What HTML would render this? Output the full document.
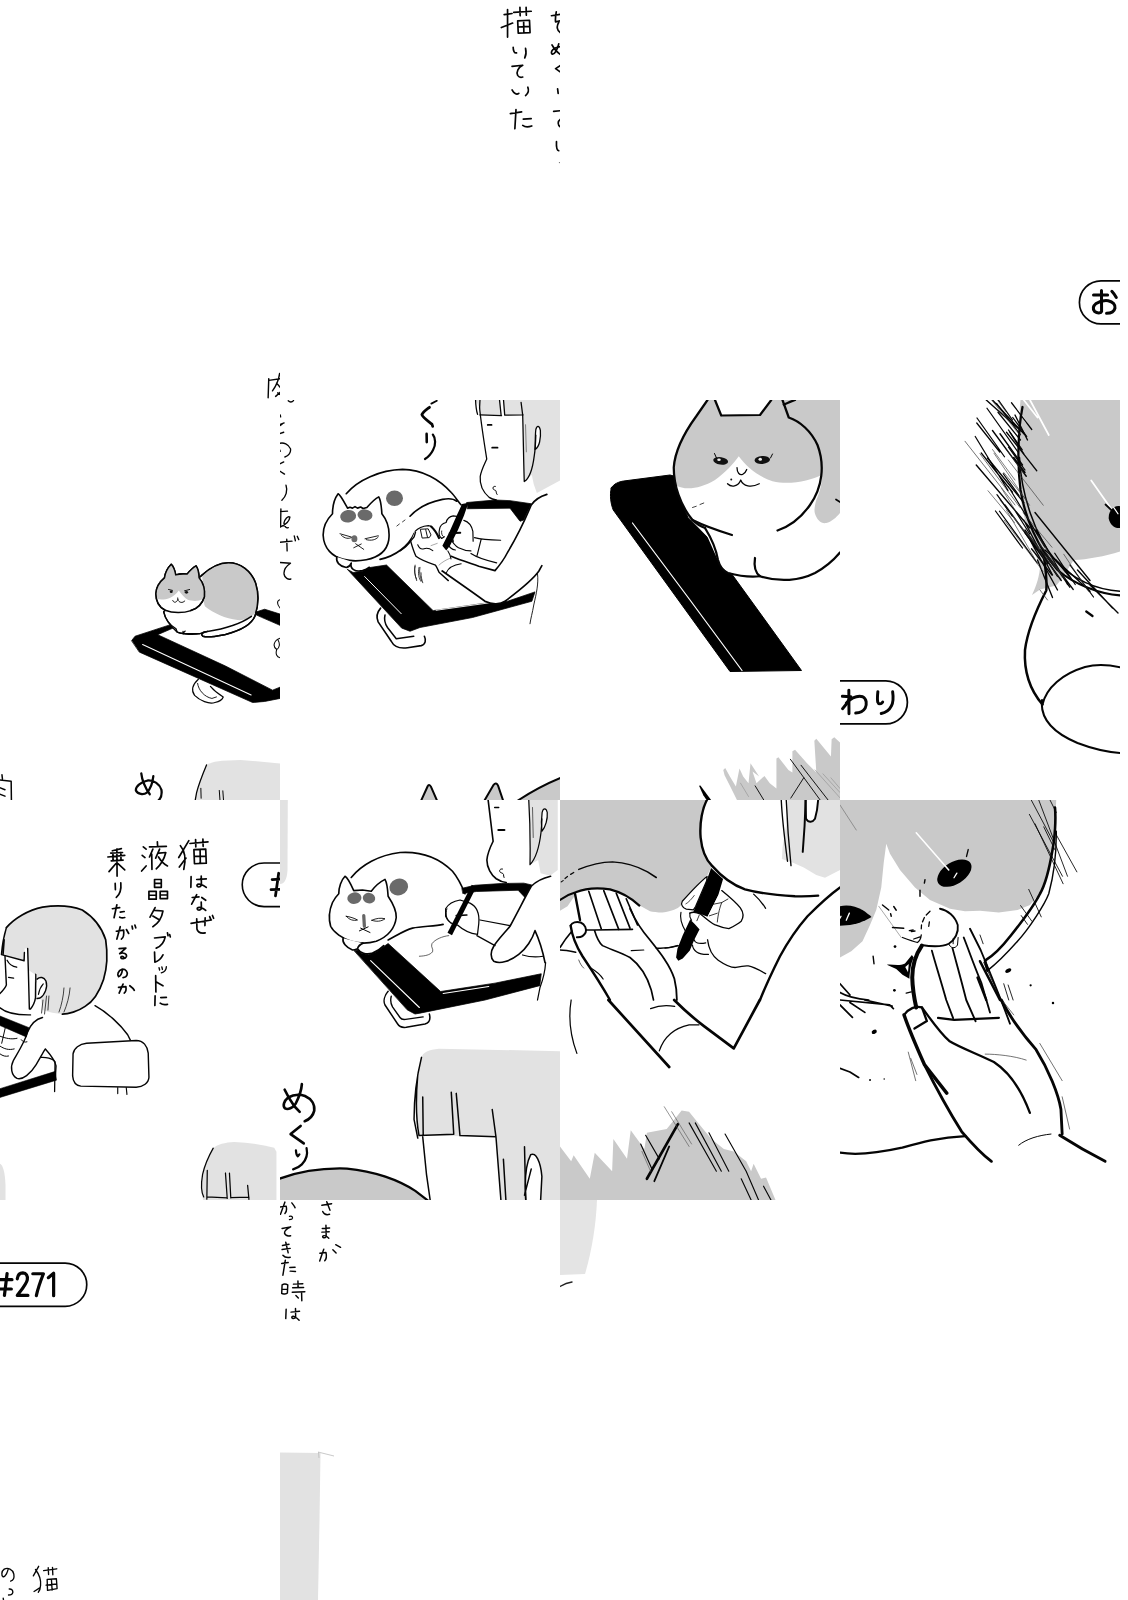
<!DOCTYPE html>
<html><head><meta charset="utf-8"><title>page</title>
<style>html,body{margin:0;padding:0;background:#fff}svg{display:block}
.k{fill:none;stroke:#050505;stroke-linecap:round;stroke-linejoin:round}
.b{fill:#000;stroke:#000;stroke-linejoin:round}
.g{fill:#c9c9c9;stroke:none}
.w{fill:#fff;stroke:none}
</style></head><body>
<svg width="1128" height="1600" viewBox="0 0 1128 1600">
<rect width="1128" height="1600" fill="#fff"/>
<defs>
<clipPath id="c00"><rect x="0" y="0" width="280" height="400"/></clipPath>
<clipPath id="c10"><rect x="280" y="0" width="280" height="400"/></clipPath>
<clipPath id="c20"><rect x="560" y="0" width="280" height="400"/></clipPath>
<clipPath id="c30"><rect x="840" y="0" width="280" height="400"/></clipPath>
<clipPath id="c01"><rect x="0" y="400" width="280" height="400"/></clipPath>
<clipPath id="c11"><rect x="280" y="400" width="280" height="400"/></clipPath>
<clipPath id="c21"><rect x="560" y="400" width="280" height="400"/></clipPath>
<clipPath id="c31"><rect x="840" y="400" width="280" height="400"/></clipPath>
<clipPath id="c02"><rect x="0" y="800" width="280" height="400"/></clipPath>
<clipPath id="c12"><rect x="280" y="800" width="280" height="400"/></clipPath>
<clipPath id="c22"><rect x="560" y="800" width="280" height="400"/></clipPath>
<clipPath id="c32"><rect x="840" y="800" width="280" height="400"/></clipPath>
<clipPath id="c03"><rect x="0" y="1200" width="280" height="400"/></clipPath>
<clipPath id="c13"><rect x="280" y="1200" width="280" height="400"/></clipPath>
<clipPath id="c23"><rect x="560" y="1200" width="280" height="400"/></clipPath>
<clipPath id="c33"><rect x="840" y="1200" width="280" height="400"/></clipPath>
</defs>
<g clip-path="url(#c00)">
<!-- tile (0,0): partial niku at bottom-right. 13.333x coords origin (262,370) -->
<g transform="translate(262,370) scale(.075)" class="k" stroke-width="19">
  <path d="M90,115 L82,370 M92,138 L250,116 M235,45 C225,120 190,210 140,278 M195,175 L250,240 M250,292 L182,352 M210,305 L250,332"/>
</g>

</g>
<g clip-path="url(#c10)">
<!-- tile (1,0): text. 8.8917x coords origin (480,0) -->
<g transform="translate(480,0) scale(.112465)" class="k" stroke-width="15">
  <path d="M215,130 L285,120 M245,85 L245,330 M190,245 L290,205"/>
  <path d="M300,110 L455,100 M355,65 L357,140 M410,65 L412,135 M335,185 L340,295 L445,290 L440,180 Z M338,240 L442,235 M388,185 L390,293"/>
  <path d="M295,420 C295,450 305,475 325,470 M405,430 C412,460 410,490 398,515"/>
  <path d="M285,590 L380,580 C340,600 320,640 335,670 C345,685 365,690 380,685"/>
  <path d="M285,800 C300,830 325,845 345,830 M425,775 C435,800 430,830 405,850"/>
  <path d="M270,1010 L370,995 M320,975 L310,1145 M385,1060 L455,1055 M380,1115 C400,1130 430,1130 460,1120"/>
  <path d="M635,140 L720,127 M678,105 C672,140 668,170 672,195 L720,183 M700,200 C680,230 680,270 720,295"/>
  <path d="M640,400 C660,440 690,470 720,488 M700,390 C690,440 660,490 640,480 C625,460 650,420 720,414"/>
  <path d="M720,580 L672,610 L720,645"/>
  <path d="M690,790 L695,830"/>
  <path d="M655,990 L720,984 M720,1056 C690,1075 685,1110 720,1134"/>
  <path d="M680,1260 C678,1300 682,1335 700,1340"/>
  <circle cx="706" cy="1446" r="5" fill="#555" stroke="none"/>
</g>

</g>
<g clip-path="url(#c30)">
<!-- tile (3,0): "o" pill. 16.588x coords origin (1060,265) -->
<g transform="translate(1060,265) scale(.060284)" class="k" stroke-width="28">
  <path d="M1000,262 L680,262 A358,358 0 0 0 680,978 L1000,978" stroke-linecap="butt"/>
  <g stroke-width="50">
  <path d="M556,497 L790,497"/>
  <path d="M688,422 L690,770 C680,800 620,805 575,772 C540,730 550,680 600,638 C660,600 740,585 800,592 C880,610 920,660 912,715 C900,770 840,800 772,800"/>
  <path d="M860,437 C890,470 915,505 934,538"/>
  </g>
</g>

</g>
<g clip-path="url(#c01)">
<!-- tile (0,1): cat loaf on tablet. 6.635x coords origin (120,550) -->
<g transform="translate(120,550) scale(.15071)" class="k" stroke-width="10">
  <!-- tablet -->
  <path class="b" stroke-width="5" d="M78,600 L100,572 L330,497 L352,518 L250,562 L700,770 L1012,930 L1062,910 L1062,985 L960,1005 L880,1012 L130,678 Z"/>
  <path class="b" stroke-width="5" d="M900,412 L960,393 L1062,425 L1062,500 L940,447 L898,428 Z"/>
  <path d="M150,627 L500,790 L870,962" stroke="#fff" stroke-width="7"/>
  <!-- cable -->
  <path d="M520,858 C485,890 470,930 495,965 C530,1000 590,1025 630,1012 C660,1005 680,990 685,975 C660,960 625,935 600,905" fill="#fff" stroke-width="8"/>
  <path d="M515,885 C520,930 560,975 610,985 L640,975" stroke-width="6"/>
  <!-- cat body -->
  <path fill="#fff" d="M540,170 C600,115 670,85 720,85 C800,85 870,140 900,220 C925,300 915,380 895,440 C870,500 780,540 700,560 C650,570 590,585 550,572 C535,560 545,545 580,540 L530,555 L430,555 L420,555 L380,545 C330,500 300,460 290,410 Z"/>
  <path class="g" fill="#c9c9c9" d="M545,172 C600,115 670,88 720,88 C800,88 868,140 897,220 C920,300 912,370 895,420 C870,450 830,468 780,465 C700,455 620,420 565,375 C550,350 555,250 545,172 Z"/>
  <path d="M540,170 C600,115 670,85 720,85 C800,85 870,140 900,220 C925,300 915,380 895,440 C870,500 780,540 700,560 C650,570 590,585 550,572 C530,555 545,542 580,540 C680,525 800,490 872,440"/>
  <path d="M290,410 C300,460 335,500 372,522 L380,545 C395,556 420,558 432,538 M430,556 C470,562 505,560 532,554 M418,540 L420,556" stroke-width="8"/>
  <!-- head -->
  <path fill="#fff" d="M295,185 C300,150 320,115 340,95 C355,110 365,140 370,165 C395,158 420,157 445,160 C465,135 485,115 505,105 C518,125 524,155 525,185 C550,215 565,260 560,310 C545,360 510,390 470,402 C420,420 350,420 300,400 C260,380 238,340 238,290 C240,250 262,212 295,185 Z"/>
  <path class="g" fill="#c9c9c9" d="M295,185 C300,150 320,115 340,95 C355,110 365,140 370,165 C395,158 420,157 445,160 C465,135 485,115 505,105 C518,125 524,155 525,185 C550,215 565,260 560,310 L550,325 C520,342 480,340 450,330 C430,318 410,295 390,268 C375,290 350,310 330,318 C300,330 270,330 243,325 C236,290 240,250 262,212 Z"/>
  <path d="M295,185 C300,150 320,115 340,95 C355,110 365,140 370,165 C395,158 420,157 445,160 C465,135 485,115 505,105 C518,125 524,155 525,185 C550,215 565,260 560,310 C545,360 510,390 470,402 M300,400 C260,380 238,340 238,290 C240,250 262,212 295,185"/>
  <ellipse cx="340" cy="277" rx="10" ry="8" fill="#111" stroke="none"/>
  <ellipse cx="441" cy="281" rx="11" ry="9" fill="#111" stroke="none"/>
  <path d="M322,262 L348,268 M428,271 L462,262" stroke-width="6"/>
  <path d="M350,335 C355,352 375,352 384,328 C390,350 415,355 430,338 M383,318 L384,328" stroke-width="6"/>
  <!-- squiggles at right edge -->
  <path d="M1062,330 C1040,335 1040,360 1062,385 M1062,585 C1020,600 1010,640 1040,660 C1060,650 1062,620 1050,600 M1040,660 C1030,690 1040,710 1062,715" stroke-width="7"/>
</g>
<!-- bottom strip: 7.05x coords origin (120,750) -->
<g transform="translate(120,750) scale(.141844)" class="k" stroke-width="9">
  <path fill="#e2e2e2" stroke="none" d="M610,105 C640,88 680,80 720,76 L850,70 L1135,95 L1135,360 L528,360 L545,280 L580,170 Z"/>
  <path d="M610,105 C585,165 555,240 540,300 L530,356"/>
  <path d="M570,270 L572,340 M700,285 L705,356 M725,288 L730,356" stroke-width="7"/>
  <path d="M150,165 C155,210 180,270 210,312" stroke-width="16"/>
  <path d="M235,185 C230,230 215,275 190,300 C165,318 125,312 112,285 C110,255 150,225 195,215 C240,212 280,240 292,280 C298,320 285,345 268,358" stroke-width="16"/>
</g>
<g transform="translate(0,750) scale(.248227)" class="k" stroke-width="6">
  <path d="M-5,120 L45,126 L46,205 M-5,150 L20,160 M-5,176 L20,186 M8,100 L10,118"/>
</g>

</g>
<g clip-path="url(#c11)">
<!-- tile (1,1): cat on tablet with person. Group A: 8x coords, origin (310,440) -->
<g transform="translate(310,440) scale(.125)" class="k" stroke-width="13">
  <!-- cat body -->
  <path d="M290,430 C380,320 560,240 740,235 C900,235 1040,320 1130,420 C1160,450 1190,500 1210,520" fill="#fff"/>
  <path d="M800,610 C860,545 960,495 1060,475 C1110,465 1150,470 1175,490"/>
  <path d="M760,640 L740,655 M715,672 L695,688" stroke-width="6"/>
  <path d="M560,955 C680,930 790,850 835,745"/>
  <!-- cat head -->
  <path fill="#fff" d="M180,590 C180,540 195,470 225,430 C245,440 275,500 300,545 L320,538 L340,545 L360,533 L380,545 L405,536 L425,548 L455,540 C490,500 520,470 550,455 C565,480 572,540 575,590 C615,640 640,720 630,800 C615,890 540,940 450,958 C400,968 320,968 270,955 C180,935 110,870 105,760 C105,690 140,630 180,590 Z"/>
  <ellipse cx="305" cy="610" rx="64" ry="50" fill="#6a6a6a" stroke="none" transform="rotate(-8 305 610)"/>
  <ellipse cx="440" cy="600" rx="60" ry="45" fill="#6a6a6a" stroke="none" transform="rotate(5 440 600)"/>
  <ellipse cx="676" cy="466" rx="68" ry="62" fill="#6a6a6a" stroke="none"/>
  <!-- face -->
  <path d="M240,750 L330,776 M252,764 C280,790 310,792 332,780" stroke-width="7"/>
  <path d="M440,790 L546,766 M450,797 C490,808 525,800 546,776" stroke-width="7"/>
  <ellipse cx="355" cy="790" rx="24" ry="28" fill="#6a6a6a" stroke="none"/>
  <path d="M365,830 L430,875 M410,832 L350,862" stroke-width="7"/>
  <!-- paws -->
  <path d="M215,935 C205,975 235,1010 290,1020 C315,1015 325,1000 330,985 C318,1030 360,1058 420,1045 C440,1040 460,1030 475,1018" fill="#fff"/>
  <!-- tablet black -->
  <path class="b" stroke-width="6" d="M300,1035 L345,1060 L420,1050 L480,1020 L612,1000 L985,1365 L1440,1300 L1580,1290 L1800,1215 L1775,1290 L1300,1420 L880,1500 L800,1530 L735,1505 Z"/>
  <path d="M437,1092 L730,1390" stroke="#fff" stroke-width="8"/>
  <path d="M1010,1362 L1440,1302" stroke="#fff" stroke-width="7"/>
  <!-- stand -->
  <path d="M565,1345 C535,1380 530,1420 545,1455 L650,1610 C670,1650 720,1670 780,1662 L890,1645 C925,1635 930,1600 915,1570" stroke-width="13"/>
  <path d="M600,1400 C590,1440 600,1470 620,1500 L690,1590 L830,1570" stroke-width="12"/>
  <!-- motion lines -->
  <path d="M840,1010 C832,1050 838,1085 852,1112 M872,1020 C862,1070 870,1105 888,1132 M888,1062 C888,1095 895,1120 902,1142" stroke-width="6"/>
  <!-- tablet top band -->
  <path class="b" stroke-width="6" d="M1255,500 L1480,480 L1600,485 L1770,510 L1710,640 L1680,650 L1600,545 L1260,550 Z"/>
  <!-- shoulder/arm -->
  <path class="w" d="M1130,930 C1200,960 1280,985 1350,1010 L1480,1045 C1510,1010 1550,960 1580,900 C1640,800 1720,640 1770,520 L1895,435 L1900,1000 L1855,1005 L1830,1050 C1780,1120 1680,1200 1560,1290 C1520,1320 1450,1315 1400,1290 C1250,1180 1100,1080 1020,1020 Z"/>
  <path d="M1895,435 C1830,455 1790,490 1770,520 C1720,640 1640,800 1580,900 C1550,960 1510,1010 1480,1045 L1350,1010 C1280,985 1200,960 1130,930"/>
  <path d="M1020,1020 C1100,1080 1250,1180 1400,1290 C1450,1315 1520,1320 1560,1290 C1680,1200 1780,1120 1830,1050 L1855,1005"/>
  <path d="M1820,1070 C1830,1150 1810,1230 1790,1320 C1780,1380 1765,1430 1760,1470" stroke-width="7"/>
</g>
<!-- hands: 11.28x coords origin (400,480) -->
<g transform="translate(400,480) scale(.0886525)" class="k" stroke-width="14.4">
  <!-- left hand palm -->
  <path fill="#fff" stroke="none" d="M170,580 L230,530 L320,515 L360,525 L440,650 L540,800 L575,890 L500,1000 L440,1040 L400,960 L280,920 L180,860 L120,690 Z"/>
  <path d="M170,580 C200,545 260,520 320,515 L360,525" stroke-width="13.2"/>
  <path d="M230,560 L250,655 L330,650 L350,620 L320,555 Z M290,560 L310,645" stroke-width="10.8"/>
  <path d="M350,525 C380,550 410,590 440,655" stroke-width="24"/>
  <path d="M0,800 C60,765 100,720 120,690 L160,640 L175,590" stroke-width="14.4"/>
  <path d="M120,690 C140,760 160,820 180,860 C220,890 280,920 400,960 C420,990 430,1020 440,1040 L545,1135" stroke-width="15.6"/>
  <path d="M200,730 C215,765 240,785 270,775 C300,765 340,775 370,797" stroke-width="12"/>
  <path d="M350,740 L420,715 M440,960 C470,930 520,900 560,885" stroke="#777" stroke-width="7.2"/>
  <path d="M540,800 C560,830 572,860 575,890 M520,1050 C540,1000 580,960 690,945" stroke-width="12"/>
  <path d="M170,960 C160,1010 168,1080 188,1135 M225,985 C215,1040 225,1090 242,1135" stroke-width="8.4"/>
  <!-- right hand -->
  <path fill="#fff" stroke="none" d="M445,560 L470,500 L520,480 L545,430 L590,405 L640,410 L720,455 L780,480 L820,560 L825,690 L800,800 L720,790 L640,750 L570,660 L500,640 L470,660 L440,620 Z"/>
  <path d="M445,560 C450,520 480,490 520,480 C530,440 560,410 600,405 L640,410 M445,560 C435,600 445,640 470,660 L500,640 M720,455 C770,470 810,520 822,580 L825,690" stroke-width="13.2"/>
  <path d="M570,660 C590,700 620,740 660,765 C710,790 760,800 800,800 M540,720 C555,760 585,785 625,790" stroke-width="13.2"/>
  <path d="M470,575 C465,605 475,630 490,640" stroke-width="9.6"/>
  <!-- pen -->
  <path fill="#000" stroke="none" d="M700,272 L772,256 L722,400 L655,560 L565,740 L522,795 L478,742 L560,580 L640,400 Z"/>
  <path d="M560,600 L680,595" stroke-width="21.6"/>
  <path d="M590,660 L600,690 M545,655 L585,665" stroke-width="16.8"/>
  <!-- cuff -->
  <path d="M840,650 C900,665 1000,675 1135,680 M915,670 L870,850 M800,830 C860,870 960,905 1090,935" stroke-width="13.2"/>
</g>
<!-- person head: group C 12.533x, origin (470,400) -->
<g transform="translate(470,400) scale(.0798)" class="k" stroke-width="16">
  <path fill="#e2e2e2" stroke="none" d="M72,0 L1128,0 L1128,1010 L838,1165 L799,1057 L775,940 L740,965 L680,1022 L672,600 L660,188 L125,192 L118,100 Z"/>
  <path class="w" d="M374,0 L420,0 L436,194 L392,196 Z"/>
  <path fill="#fff" d="M815,620 C870,590 890,480 882,380 C870,320 840,310 825,370 C815,450 820,540 815,620 Z"/>
  <path d="M70,0 C72,60 78,130 95,180 M125,0 L120,100 M125,187 L395,196 M370,0 L390,190 M420,0 L435,190 M435,190 L665,186 M640,30 L660,186"/>
  <path d="M120,100 C135,250 175,520 210,740 C185,800 140,880 128,960 C120,1060 160,1150 240,1220 C270,1240 300,1248 330,1252"/>
  <path d="M222,312 L270,312 M278,597 L345,597" stroke-width="22"/>
  <path d="M318,1082 C292,1076 280,1100 292,1118 C305,1132 322,1128 326,1140 C330,1160 330,1175 340,1185" stroke-width="12"/>
  <path d="M660,186 C668,450 672,800 680,1022 C740,985 785,860 805,700 C815,640 822,540 825,440"/>
  <path d="M696,310 L706,650" stroke="#666" stroke-width="10"/>
</g>
<!-- left text column: 13.333x coords origin (262,370) / (262,480) -->
<g transform="translate(262,370) scale(.075)" class="k" stroke-width="18">
  <path d="M350,410 C370,432 400,432 420,408"/>
  <path d="M244,600 L248,625 M235,728 L295,706 M238,742 L268,722 M235,848 L290,830"/>
  <path d="M235,978 C290,962 350,990 380,1050 C388,1100 355,1145 305,1160 M240,1070 L242,1085"/>
  <path d="M235,1254 L290,1226 M235,1346 L300,1388"/>
</g>
<g transform="translate(262,480) scale(.075)" class="k" stroke-width="18">
  <path d="M320,70 C345,140 320,220 265,270"/>
  <path d="M235,421 L340,416 M252,385 L248,628 M238,630 C310,600 365,550 372,495 C345,475 305,520 292,575 C300,625 325,645 350,635"/>
  <path d="M235,831 L400,815 M330,790 L335,945 M430,745 L445,810 M470,750 L490,795"/>
  <path d="M235,1100 L380,1110 C320,1150 285,1200 295,1260 C305,1310 350,1330 385,1320"/>
  <circle cx="228" cy="1596" r="8" fill="#111" stroke="none"/>
</g>
<!-- 4x group for remaining: top text, left text column, bottom ears -->
<g transform="translate(280,400) scale(.25)" class="k" stroke-width="5">
</g>

<!-- bottom ears: 7.05x coords origin (400,760) -->
<g transform="translate(400,760) scale(.141844)" class="k" stroke-width="14" stroke-linejoin="round">
  <path fill="#c9c9c9" d="M145,295 L195,185 C200,172 210,172 218,188 L265,295"/>
  <path fill="#c9c9c9" d="M590,295 L660,175 C670,162 685,162 692,182 L730,295"/>
  <path fill="#c9c9c9" d="M825,290 C900,240 1000,180 1135,125 L1135,295 Z"/>
</g>

<!-- kuri bold: 22.56x coords origin (410,396) -->
<g transform="translate(410,396) scale(.0443262)" class="k" stroke-width="62">
  <path d="M482,172 L605,108" stroke-width="40"/>
  <path d="M440,255 C380,300 300,350 268,420 C285,480 400,560 495,635 L512,685"/>
  <path d="M375,855 L378,1040" stroke-width="58"/>
  <path d="M515,870 C580,950 585,1100 520,1220 C480,1300 410,1380 338,1422" stroke-width="50"/>
</g>

</g>
<g clip-path="url(#c21)">
<!-- tile (2,1): big cat + tablet. 4x coords origin (560,400) -->
<g transform="translate(560,400) scale(.25)" class="k" stroke-width="9">
  <!-- tablet -->
  <path class="b" stroke-width="4" d="M205,352 C215,335 235,327 255,324 L440,300 L470,308 L482,400 L512,470 L600,560 L640,640 L690,700 L966,1082 L680,1086 L213,440 C203,415 198,380 205,352 Z"/>
  <path d="M290,492 L520,800 L728,1082" stroke="#fff" stroke-width="5"/>
  <!-- cat body white -->
  <path fill="#fff" stroke="none" d="M560,480 L640,660 L670,690 L800,705 L900,725 L1000,700 L1120,610 L1120,400 L1020,400 L870,520 Z"/>
  <!-- body gray right -->
  <path class="g" fill="#c9c9c9" d="M880,0 L1120,0 L1120,452 C1105,470 1085,488 1065,492 C1045,496 1028,480 1020,455 C1015,440 1020,420 1025,400 C1060,330 1055,230 1020,160 C990,110 950,80 915,70 Z"/>
  <!-- head -->
  <path fill="#fff" stroke="none" d="M545,65 C505,120 460,200 455,270 C455,340 480,420 530,480 C600,530 690,550 780,545 C860,540 950,490 1000,420 C1050,350 1060,260 1030,180 C1005,125 960,85 915,70 L890,0 L845,0 L800,60 L645,62 L620,0 L590,0 Z"/>
  <path class="g" fill="#c9c9c9" d="M545,65 C505,120 460,200 455,270 C455,300 458,320 465,342 C500,362 560,356 620,320 C660,290 695,255 715,225 C745,265 790,305 850,325 C920,342 1000,322 1047,300 C1055,260 1048,215 1030,180 C1005,125 960,85 915,70 L890,0 L845,0 L800,60 L645,62 L620,0 L590,0 Z"/>
  <path d="M590,0 L545,65 C505,120 460,200 455,270 C455,340 480,420 530,480 C545,495 560,505 580,512 M620,0 L645,62 L800,60 L845,0 M890,0 L915,70 C960,85 1005,125 1030,180 C1060,260 1050,350 1000,420 C965,470 920,505 870,522"/>
  <path d="M895,18 C910,12 925,5 940,0"/>
  <!-- eyes -->
  <ellipse cx="643" cy="243" rx="30" ry="15" fill="#111" stroke="none" transform="rotate(8 640 241)"/>
  <ellipse cx="809" cy="240" rx="31" ry="16" fill="#111" stroke="none" transform="rotate(-5 806 239)"/>
  <ellipse cx="636" cy="239" rx="7" ry="5" fill="#eee" stroke="none"/><ellipse cx="801" cy="237" rx="7" ry="6" fill="#eee" stroke="none"/>
  <path d="M618,214 L626,232 M850,216 L842,232" stroke-width="4"/>
  <path d="M708,270 C708,290 718,302 730,298 C740,292 745,284 747,278 M670,335 C685,350 712,348 723,320 C732,345 765,352 797,335" stroke-width="5"/>
  <circle cx="685" cy="318" r="4" fill="#111" stroke="none"/>
  <!-- body lines -->
  <path d="M580,512 C610,560 625,600 632,640 C640,670 655,685 672,692 C720,705 770,708 800,705 C780,690 775,665 780,632"/>
  <path d="M530,480 C570,500 640,525 688,540"/>
  <path d="M1104,398 L1120,408" stroke-width="7"/>
  <path d="M800,705 C880,730 960,722 1020,692 C1060,670 1095,640 1120,610"/>
  <path d="M530,430 L545,425 M560,418 L575,412" stroke-width="3"/>
</g>

<!-- bottom spikes: 7.52x coords origin (690,730) -->
<g transform="translate(690,730) scale(.132979)" class="k" stroke-width="6">
  <path fill="#c9c9c9" stroke="none" d="M250,300 L265,285 L300,350 L345,425 L372,290 L400,350 L440,400 L455,250 L520,350 L470,312 L500,400 L560,345 L600,400 L650,440 L650,215 L665,205 L740,300 L770,320 L770,160 L790,148 L880,250 L950,320 L935,80 L950,65 L1060,200 L1065,70 L1085,55 L1135,100 L1135,540 L360,540 L300,420 L260,340 Z"/>
  <path d="M755,220 L985,535 M835,265 L1045,535 M855,360 L758,512 M490,420 L560,535" stroke-width="7"/>
  <path d="M940,300 L1128,510 M1000,330 L1128,470 M1060,360 L1128,440 M380,400 L440,500" stroke="#888" stroke-width="4"/>
  <path fill="#000" stroke="none" d="M68,420 L78,418 L165,535 L130,535 L100,490 Z"/>
</g>

</g>
<g clip-path="url(#c31)">
<!-- tile (3,1): close-up cat head w/ hatching + wari pill. 4x coords origin (840,400) -->
<g transform="translate(840,400) scale(.25)" class="k" stroke-width="6">
  <path class="g" fill="#c9c9c9" d="M722,0 L1120,0 L1120,606 C1060,625 990,638 935,640 C915,670 890,715 865,742 L800,758 L768,780 C785,745 800,700 800,660 C770,600 740,500 720,380 C708,280 708,150 722,0 Z"/>
  <!-- white streaks -->
  <path d="M735,0 L790,70 M760,0 L835,140 M705,30 L745,90 M1005,322 L1088,440 M775,620 L815,700" stroke="#fff" stroke-width="7"/>
  <!-- head outline -->
  <path d="M730,28 C712,120 708,250 722,360 C740,470 790,590 870,680 C940,740 1040,775 1120,782" stroke-width="9"/>
  <path d="M718,230 C725,380 780,540 860,640 C930,720 1030,760 1120,765" stroke-width="6"/>
  <path d="M812,600 C820,660 830,720 825,762 C790,830 750,920 740,1000 C735,1090 760,1160 810,1218" stroke-width="10"/>
  <path d="M810,1218 C825,1150 890,1095 980,1068 C1030,1055 1080,1060 1125,1070 M808,1200 C800,1270 850,1330 950,1372 C1010,1395 1070,1408 1120,1412" stroke-width="8"/>
  <!-- hatching -->
  <path stroke-width="5.5" d="M585,0 L725,125 M610,0 L740,140 M610,122 L745,305 M640,135 L730,260 M680,130 L735,215 M545,260 L760,512 M590,232 L735,410 M660,420 L830,655 M740,520 L885,722 M780,450 L1000,722 M820,600 L1000,765 M950,680 L1090,832 M1000,740 L1112,852 M700,60 L750,160 M695,230 L740,290 M735,480 L850,700 M760,560 L870,760 M790,640 L850,790"/>
  <path stroke-width="3" stroke="#444" d="M500,165 L700,420 M560,215 L720,430 M640,400 L800,600 M655,290 L745,400 M800,760 L830,800 M630,380 L760,560"/>
  <path stroke-width="5" d="M565,212 L690,369 M634,1 L690,80 M638,445 L789,652 M632,49 L722,160 M622,444 L730,592 M739,530 L823,647 M674,120 L729,199 M808,592 L933,758 M626,14 L721,138 M674,347 L793,543 M541,146 L672,362 M548,72 L658,227 M653,295 L716,382 M547,92 L639,208 M691,70 L747,146 M628,379 L689,464 M863,639 L922,713 M801,598 L870,706 M686,11 L767,118 M784,519 L910,738 M666,129 L787,283 M920,660 L1014,788 M859,613 L941,738 M766,595 L848,700 M674,189 L740,280 M736,450 L819,588 M588,33 L711,207 M702,445 L759,536 M813,597 L919,749"/>
  <path stroke-width="2.5" stroke="#333" d="M646,353 L705,448 M802,598 L873,708 M657,481 L812,685 M792,541 L879,688 M665,439 L781,638 M594,-50 L663,46 M616,213 L758,421 M746,528 L900,715 M610,198 L700,320 M733,451 L848,589 M666,199 L736,294 M673,240 L813,421 M774,566 L829,655 M795,571 L864,669 M568,-48 L720,142 M895,617 L994,766 M592,363 L698,490"/>
  <path d="M985,846 L1010,864" stroke-width="9"/>
  <!-- eye -->
  <path fill="#000" stroke="none" d="M1120,425 C1095,420 1072,445 1075,475 C1080,500 1100,515 1120,512 Z"/>
  <path d="M1062,418 L1085,440" stroke-width="7"/>
  <path d="M1095,430 L1112,455" stroke="#fff" stroke-width="5"/>
</g>
<!-- wari pill: 12.533x coords origin (830,670) -->
<g transform="translate(830,670) scale(.0797872)" class="k" stroke-width="22">
  <path d="M120,135 L700,135 A270,270 0 0 1 700,675 L120,675" stroke-linecap="butt"/>
  <g stroke-width="37">
  <path d="M236,252 L238,548"/>
  <path d="M155,330 L262,336 M252,350 C225,400 190,450 157,485"/>
  <path d="M205,415 C270,350 350,320 410,335 C460,360 465,430 440,480 C415,520 370,538 322,540"/>
  <path d="M600,272 C595,320 592,370 598,400 C610,435 640,430 660,402"/>
  <path d="M785,272 C795,340 795,400 770,450 C745,500 700,535 642,546"/>
  </g>
</g>

</g>
<g clip-path="url(#c02)">
<!-- tile (0,2): person at desk. 7.05x coords origin (0,900) -->
<g transform="translate(0,900) scale(.141844)" class="k" stroke-width="12">
  <!-- hair gray -->
  <path fill="#e2e2e2" stroke="none" d="M10,385 C15,320 25,250 45,195 C100,130 200,70 300,50 C400,35 500,40 580,70 C660,120 720,200 745,280 C760,380 755,480 730,560 C700,650 650,720 600,750 C550,785 480,805 440,805 C400,800 340,790 300,775 L290,700 L262,700 L208,762 L200,430 L170,428 Z"/>
  <path class="w" d="M200,494 L247,525 L252,634 L247,705 L212,768 L204,768 Z"/>
  <path class="w" d="M174,342 L193,342 L197,448 L176,448 Z"/>
  <!-- ear -->
  <path fill="#fff" d="M261,558 C282,539 310,543 324,571 C338,613 317,670 282,691 C275,694 268,694 261,694" stroke-width="10"/>
  <path d="M305,592 C286,613 275,642 271,666" stroke-width="8"/>
  <!-- hair outline -->
  <path d="M45,195 C100,130 200,70 300,50 C400,35 500,40 580,70 C660,120 720,200 745,280 C760,380 755,480 730,560 C700,650 650,720 600,750 C550,785 480,805 440,805"/>
  <path d="M45,195 C28,250 15,320 10,385 M30,280 L22,385 M10,385 L170,428 L172,370 M195,342 L200,500 L207,768 L215,768 C235,745 246,715 250,690 L252,525" stroke-width="10"/>
  <path d="M328,677 L314,804 M345,677 L338,776 M451,620 C448,677 434,740 416,790 M494,620 C490,677 472,740 451,790 M303,705 L293,797 M250,522 L252,578" stroke-width="6" stroke="#222"/>
  <!-- face -->
  <path d="M35,392 C38,450 42,540 45,600 C35,625 15,645 0,660 M0,760 C40,795 100,812 215,810" stroke-width="10"/>
  <path d="M50,425 C65,455 90,470 118,474 M60,546 L96,551" stroke-width="9"/>
  <!-- shoulder -->
  <path d="M670,745 C760,795 850,880 900,950 L925,1000" stroke-width="10"/>
  <!-- arm -->
  <path fill="#fff" d="M300,828 C250,840 215,880 195,930 C175,1000 130,1070 95,1130 C70,1180 80,1235 120,1258 C160,1270 215,1225 255,1160 C280,1120 300,1080 320,1050 C360,1095 390,1140 395,1170 L390,1250" stroke-width="10"/>
  <path d="M290,1110 C330,1108 360,1118 382,1132 M388,1140 L385,1350" stroke-width="9"/>
  <!-- tablet bands -->
  <path class="b" stroke-width="4" d="M0,818 L205,900 L185,965 L0,885 Z"/>
  <path class="b" stroke-width="4" d="M0,1330 L390,1208 L398,1270 L0,1392 Z"/>
  <path d="M42,880 L12,1010 M0,960 C40,975 80,985 120,975 M0,1030 C30,1050 60,1060 100,1050 M0,1085 C20,1100 40,1105 60,1100 M150,985 C160,1000 175,1005 190,1000" stroke-width="7"/>
  <!-- chair -->
  <path fill="#fff" d="M515,1085 C520,1045 560,1015 610,1010 L960,990 C1010,990 1040,1030 1045,1080 L1050,1250 C1048,1290 1010,1318 960,1320 L570,1312 C535,1308 515,1280 512,1240 Z" stroke-width="10"/>
  <path d="M830,1322 L830,1365 M890,1322 L895,1370" stroke-width="8"/>
</g>
<!-- text: 8.89x coords origin (100,830) -->
<g transform="translate(100,830) scale(.112465)" class="k" stroke-width="15">
  <!-- neko -->
  <path d="M790,95 L700,245 M715,140 C760,190 765,260 745,350 M765,250 L705,330"/>
  <path d="M800,120 L960,105 M850,85 L852,150 M915,80 L917,145 M835,175 L840,300 L945,295 L940,170 Z M838,235 L942,232 M890,175 L892,298"/>
  <!-- ha -->
  <path d="M810,415 L808,510 M860,440 L945,435 M900,410 L902,490 C890,515 860,510 862,490 C870,475 910,480 945,510"/>
  <!-- na -->
  <path d="M820,600 L880,595 M860,575 L815,660 M905,600 L940,625 M900,640 L902,700 C885,720 860,712 865,695 C880,680 915,690 940,715"/>
  <!-- ze -->
  <path d="M810,830 L990,800 M860,790 L862,880 C870,915 900,920 935,915 M935,780 L933,850 M975,770 L985,795 M1000,760 L1010,785"/>
  <!-- eki -->
  <path d="M385,150 L410,170 M375,225 L400,245 M370,365 L410,320 M510,105 L512,140 M440,150 L590,145 M470,170 L440,240 M460,215 L462,350 M530,170 L495,250 M525,205 L585,200 C570,260 540,310 500,345 M520,240 C545,280 570,305 600,320"/>
  <!-- shou -->
  <path d="M485,440 L545,440 L545,510 L485,510 Z M485,475 L545,475 M435,545 L500,545 L500,615 L435,615 Z M435,580 L500,580 M535,545 L600,545 L600,610 L535,610 Z M535,578 L600,578"/>
  <!-- ta -->
  <path d="M490,690 L445,775 M485,715 L560,720 C550,780 520,830 470,860 M470,765 L530,800"/>
  <!-- bu -->
  <path d="M485,960 L580,950 C570,1000 540,1035 500,1050 M600,915 L605,940 M620,930 L625,950"/>
  <!-- re -->
  <path d="M485,1085 L488,1175 C520,1165 545,1140 560,1110"/>
  <!-- tsu small -->
  <path d="M525,1225 L530,1245 M550,1218 L555,1240 M590,1215 C590,1245 570,1262 545,1270" stroke-width="12"/>
  <!-- to -->
  <path d="M495,1295 L497,1440 M497,1350 L560,1385"/>
  <!-- ni -->
  <path d="M490,1475 L488,1560 M540,1490 L590,1488 M535,1540 C555,1555 580,1555 600,1550"/>
  <!-- nori -->
  <path d="M190,165 L110,185 M70,240 L220,225 M150,170 L152,410 M95,205 L200,200 M100,275 L205,268 M115,205 L116,275 M185,200 L187,270 M140,300 L80,370 M160,300 L220,355"/>
  <!-- ri -->
  <path d="M135,475 L137,530 M185,470 C190,520 180,570 145,600"/>
  <!-- ta -->
  <path d="M110,700 L175,690 M150,665 L125,780 M180,730 L215,725 M175,775 C190,782 205,782 220,778"/>
  <!-- ga -->
  <path d="M145,900 L210,890 C215,930 205,960 190,970 M180,860 L150,970 M235,885 L255,920 M285,855 L290,880 M310,845 L318,870"/>
  <!-- ru -->
  <path d="M170,1055 L230,1050 L175,1100 C210,1085 240,1100 235,1125 C225,1150 190,1148 185,1135 C185,1120 205,1120 215,1135"/>
  <!-- no -->
  <path d="M200,1240 C195,1275 180,1300 165,1305 C150,1290 160,1250 195,1238 C230,1235 250,1265 240,1290 C235,1305 220,1312 205,1312"/>
  <!-- ka -->
  <path d="M165,1400 L230,1392 C235,1420 228,1440 215,1450 M205,1370 L170,1450 M265,1385 C285,1400 300,1415 305,1425"/>
</g>
<!-- # pill: 18.8x coords origin (230,850) -->
<g transform="translate(230,850) scale(.0531915)" class="k" stroke-width="30">
  <path d="M950,245 L640,245 A410,410 0 0 0 640,1065 L950,1065" stroke-linecap="butt"/>
  <path d="M915,437 L855,863 M792,555 L950,548 M772,745 L950,740" stroke-width="52"/>
</g>
<!-- bottom strip: 11.28x coords origin (190,1130) -->
<g transform="translate(190,1130) scale(.0886525)" class="k" stroke-width="14">
  <path fill="#e2e2e2" stroke="none" d="M262,205 C300,165 400,138 500,135 C650,140 800,165 950,200 L975,245 L975,800 L150,800 C120,700 130,560 160,440 C190,350 225,270 262,205 Z"/>
  <path d="M262,205 C225,270 170,380 142,500 C125,600 125,700 155,755"/>
  <path d="M195,455 L190,780 M190,755 L420,766 M400,485 L420,772 M445,485 L460,766 M460,763 L665,758 M650,625 L665,782"/>
</g>
<!-- left-bottom gray bit, 4x origin (0,800) -->
<g transform="translate(0,800) scale(.25)">
  <path fill="#e2e2e2" d="M0,1455 C12,1460 20,1490 22,1540 L22,1600 L0,1600 Z"/>
</g>

</g>
<g clip-path="url(#c12)">
<!-- tile (1,2): left gray strip -->
<path fill="#e2e2e2" d="M280,800 L287.8,800 L287.5,870 C287,880 284,884 280,884 Z"/>
<!-- group A: 8x coords origin (320,840) -->
<g transform="translate(320,840) scale(.125)" class="k" stroke-width="13">
  <!-- body -->
  <path fill="#fff" d="M250,300 C330,200 470,120 640,100 C800,90 950,140 1060,250 C1110,310 1140,380 1160,430"/>
  <path d="M545,800 C620,760 680,720 740,705 C820,690 920,690 985,675"/>
  <!-- head -->
  <path fill="#fff" d="M150,430 C150,380 170,320 200,290 C220,300 250,360 270,405 L340,400 L410,410 C440,370 480,335 520,315 C535,340 542,400 545,450 C585,510 612,570 610,620 C600,700 550,770 450,810 C380,830 310,828 250,810 C180,790 110,740 85,690 C65,620 70,570 100,500 C115,470 130,450 150,430 Z"/>
  <ellipse cx="275" cy="465" rx="57" ry="46" fill="#6a6a6a" stroke="none" transform="rotate(-10 275 465)"/>
  <ellipse cx="392" cy="465" rx="50" ry="42" fill="#6a6a6a" stroke="none" transform="rotate(10 392 465)"/>
  <ellipse cx="630" cy="376" rx="76" ry="66" fill="#6a6a6a" stroke="none" transform="rotate(-20 630 376)"/>
  <path d="M210,610 C240,615 275,625 300,640 C270,648 235,640 210,610 Z M415,642 C450,625 490,622 520,630 C490,652 450,656 415,642 Z" stroke-width="7"/>
  <path d="M350,605 L355,690" stroke="#666" stroke-width="26"/>
  <path d="M325,705 L400,740 M385,695 L315,727" stroke-width="8"/>
  <!-- paws -->
  <path fill="#fff" d="M185,785 C175,820 210,860 260,880 C285,878 300,868 300,870 C305,850 320,835 345,825 M300,870 C320,905 370,920 420,905 C460,890 490,865 510,845"/>
  <!-- tablet -->
  <path class="b" stroke-width="6" d="M275,885 L300,880 L335,908 L390,918 L450,895 L545,828 L965,1212 L1120,1188 L1400,1145 L1770,1070 L1758,1165 L1320,1280 L800,1385 L760,1392 L700,1360 Z"/>
  <path d="M405,965 L795,1340 M985,1228 L1350,1172" stroke="#fff" stroke-width="9"/>
  <!-- stand -->
  <path d="M545,1210 C515,1245 505,1290 520,1320 L620,1470 C635,1495 660,1502 690,1498 L840,1472 C875,1462 885,1430 875,1392" stroke-width="12"/>
  <path d="M570,1250 C560,1290 565,1310 580,1335 L640,1420 C650,1435 665,1438 685,1435 L825,1415" stroke-width="11"/>
  <!-- squiggle -->
  <path d="M1030,765 C980,770 920,795 895,830 C885,860 910,870 900,895 C880,920 840,928 795,930" stroke-width="6" stroke="#333"/>
</g>
<!-- group B: 8x coords origin (420,800) -->
<g transform="translate(420,800) scale(.125)" class="k" stroke-width="13">
  <path fill="#e2e2e2" stroke="none" d="M870,0 L1102,0 L1102,560 L1040,606 L965,585 L945,480 L880,517 L885,250 Z"/>
  <path fill="#fff" stroke-width="10" d="M975,250 C1005,215 1022,150 1018,100 C1010,60 985,60 977,100 C970,150 970,200 975,250 Z"/>
  <!-- face -->
  <path d="M545,0 C555,80 570,200 585,330 C565,370 540,420 535,480 C535,540 570,600 610,630 C640,650 665,658 690,660"/>
  <path d="M597,60 L630,60" stroke-width="11"/><path d="M627,240 L675,240" stroke-width="17"/>
  <path d="M660,552 C640,548 630,565 642,578 C652,585 665,585 668,595 C670,605 668,612 672,620" stroke-width="8"/>
  <path d="M870,0 C876,100 884,300 880,517 C925,470 955,370 968,260 C972,220 975,180 975,150" stroke-width="10"/>
  <path d="M900,60 L906,300" stroke-width="6" stroke="#333"/>
  <!-- tablet top band -->
  <path class="b" stroke-width="6" d="M338,706 L440,682 L650,668 L830,665 L895,680 L838,778 L785,722 L450,732 L345,748 Z"/>
  <!-- shoulder + arm -->
  <path fill="#fff" d="M1045,610 C980,625 920,660 890,690 C850,760 790,880 720,1010 C680,1060 620,1120 590,1170 C565,1210 560,1260 590,1290 C640,1315 720,1290 790,1235 C850,1190 900,1110 920,1045 C950,1110 980,1200 1000,1300"/>
  <path d="M820,1240 C880,1258 940,1258 985,1250 M1005,1300 C1000,1380 975,1460 960,1500 L940,1600" stroke-width="10"/>
  <!-- hand -->
  <path fill="#fff" stroke-width="10" d="M205,870 C225,835 270,808 320,800 L400,825 C450,850 478,910 470,990 L460,1075 C400,1068 350,1045 300,1000 C260,1000 220,970 205,930 Z"/>
  <path d="M480,960 L720,1005 M455,1085 L600,1165" stroke-width="10"/>
  <!-- pen -->
  <path d="M432,688 L238,1072" stroke="#000" stroke-width="40" stroke-linecap="butt"/>
  <path d="M290,925 L375,920" stroke-width="13"/>
  <path d="M215,870 C198,915 215,965 250,988" stroke-width="8"/>
</g>
<!-- lower: 4.0286x coords origin (280,1040) -->
<g transform="translate(280,1040) scale(.248227)" class="k" stroke-width="6">
  <path fill="#e2e2e2" stroke="none" d="M570,70 C575,50 600,38 640,35 L1128,45 L1128,645 L890,645 L870,390 L560,385 C545,320 545,200 550,150 Z"/>
  <path fill="#fff" stroke-width="6" d="M990,645 C985,570 990,500 1010,462 C1030,450 1050,490 1055,550 L1050,645"/>
  <path d="M570,70 C550,150 540,250 540,320 L555,395 M555,140 C548,220 548,320 560,385 M575,230 L577,385 M560,385 L700,380 M690,210 L700,380 M710,215 L725,385 L870,390 M855,280 L870,390 L890,645 M575,390 L590,540 L605,645 M985,430 L990,645 M900,480 L910,645 M1012,520 L985,625"/>
  <!-- cat back -->
  <path fill="#c9c9c9" stroke-width="9" d="M-5,560 C80,528 180,515 270,518 C380,528 480,565 545,608 L600,650 L-5,650 Z"/>
</g>
<!-- mekuri: 16x coords origin (280,1075) -->
<g transform="translate(280,1075) scale(.0625)" class="k" stroke-width="42">
  <path d="M75,235 C110,310 160,400 230,500 L315,590"/>
  <path d="M350,145 C345,220 310,340 250,460 C200,530 130,560 80,535 C40,490 60,420 130,360 C200,320 300,300 400,335 C500,380 560,470 548,570 C530,650 470,710 395,740"/>
  <path d="M330,815 L170,945 L380,1095"/>
  <path d="M255,1205 C258,1250 270,1290 285,1300 L310,1270" stroke-width="36"/>
  <path d="M425,1170 C445,1260 420,1360 350,1430 C310,1470 260,1495 210,1510" stroke-width="36"/>
</g>

</g>
<g clip-path="url(#c22)">
<!-- tile (2,2): hands close-up. group A: 8x coords origin (560,800) -->
<g transform="translate(560,800) scale(.125)" class="k" stroke-width="18">
  <!-- cat gray -->
  <path fill="#c9c9c9" stroke="none" d="M0,0 L1180,0 C1140,80 1115,200 1125,300 C1135,400 1170,480 1215,525 L1180,600 L1120,650 L1060,720 L990,790 L965,845 C940,870 900,885 820,900 C780,900 740,895 720,890 L630,840 C600,810 560,780 520,760 C480,740 440,722 400,715 C350,705 300,702 250,705 C200,712 150,725 125,745 L115,770 L60,850 L0,885 Z"/>
  <!-- arc -->
  <path d="M150,555 C250,515 330,497 420,495 C520,500 620,530 700,575 L770,620" stroke-width="12"/>
  <path d="M110,580 L85,595 M60,612 L40,628 M25,645 L10,655" stroke-width="9.6"/>
  <!-- paw arc -->
  <path d="M0,800 C40,770 80,750 125,738 C200,708 300,700 400,715 C480,735 560,775 635,845" stroke-width="16.8"/>
  <!-- toe lines -->
  <path d="M120,750 L160,960" stroke-width="19.2"/>
  <path d="M230,730 L330,1030 M350,725 L470,1035 M450,745 L560,1025 M530,790 L620,1000" stroke-width="13.2"/>
  <!-- thumb -->
  <path fill="#fff" d="M85,1005 C95,980 130,970 165,980 C200,995 215,1030 205,1060 C190,1090 160,1100 135,1098" stroke-width="15.6"/>
  <!-- hand outline -->
  <path d="M85,1005 C95,1080 130,1170 180,1250 C240,1340 320,1460 400,1600" stroke-width="19.2"/>
  <path d="M275,1040 L580,1035 M205,1040 L275,1040 C290,1090 310,1140 340,1165 C400,1195 480,1215 560,1260 C640,1320 700,1420 730,1520 L748,1600" stroke-width="13.2"/>
  <path d="M560,870 C600,960 650,1040 720,1120 C800,1220 880,1320 915,1430 C930,1490 935,1550 935,1600" stroke-width="14.4"/>
  <path d="M240,1340 C290,1370 325,1400 345,1432 M570,1205 L670,1200" stroke-width="9.6"/>
  <path d="M0,1180 C30,1130 65,1085 95,1050 M0,1200 C40,1200 80,1208 125,1218" stroke-width="13.2"/>
  <path d="M150,1280 C160,1310 175,1330 190,1345" stroke-width="5"/>
  <path d="M770,1185 C830,1190 890,1180 940,1165" stroke-width="12"/>
</g>
<!-- group B: 8x coords origin (700,800) -->
<g transform="translate(700,800) scale(.125)" class="k" stroke-width="18">
  <!-- hair light gray -->
  <path fill="#e2e2e2" stroke="none" d="M700,0 L1120,0 L1120,560 L1000,622 L930,600 L830,540 L740,500 L655,472 L660,380 L690,200 Z"/>
  <path fill="#fff" d="M845,0 L848,150 C870,185 900,180 920,150 C935,100 942,50 945,0" stroke-width="15.6"/>
  <path d="M650,0 C655,100 675,300 700,490 M690,0 C695,120 710,350 728,525" stroke-width="10.8"/>
  <path d="M845,0 C842,120 832,300 822,415" stroke-width="15.6"/>
  <!-- chin white -->
  <path fill="#fff" d="M60,-10 C20,60 -5,180 5,300 C15,400 50,480 95,525 C170,610 260,680 360,715 C450,740 600,760 760,770 C830,772 890,770 945,765 L1120,700 L1120,-10 Z" stroke="none"/>
  <path fill="#e2e2e2" stroke="none" d="M700,0 L1120,0 L1120,560 L1000,622 L930,600 L830,540 L740,500 L655,472 L660,380 L690,200 Z"/>
  <path fill="#fff" d="M845,0 L848,150 C870,185 900,180 920,150 C935,100 942,50 945,0" stroke-width="15.6"/>
  <path d="M650,0 C655,100 675,300 700,490 M690,0 C695,120 710,350 728,525" stroke-width="10.8"/>
  <path d="M845,0 C842,120 832,300 822,415" stroke-width="15.6"/>
  <path d="M60,-10 C20,60 -5,180 5,300 C15,400 50,480 95,525 C170,610 260,680 360,715 C450,740 600,760 760,770 C830,772 890,770 945,765" stroke-width="19.2"/>
  <!-- shoulder -->
  <path fill="#fff" d="M1120,700 C1050,750 950,840 860,930 C790,1010 700,1140 640,1250 C580,1370 520,1500 480,1600 L1120,1600 Z" stroke="none"/>
  <path d="M1120,700 C1050,750 950,840 860,930 C790,1010 700,1140 640,1250 C580,1370 520,1500 480,1600" stroke-width="19.2"/>
</g>
<!-- pen + right hand: 11.28x coords origin (665,860) -->
<g transform="translate(665,860) scale(.0886525)" class="k" stroke-width="17">
  <!-- hand back white -->
  <path fill="#fff" stroke="none" d="M650,350 L760,440 L850,540 L880,600 L860,690 L720,775 L640,760 L480,680 L480,900 L500,1000 L560,1100 L680,1180 L790,1215 L900,1195 L1000,1200 L1140,1285 L1140,420 L1000,385 L900,400 Z"/>
  <!-- pen -->
  <path fill="#000" stroke="none" d="M520,90 L655,215 L600,400 L480,640 L380,800 L330,900 L280,1020 L200,1110 L150,1137 L125,1100 L140,1000 L200,850 L280,680 L330,560 L400,400 L470,230 Z"/>
  <!-- index fingertip -->
  <path fill="#fff" d="M475,185 C400,240 280,370 195,465 C175,500 200,545 240,555 L320,562 L345,525 L470,235 Z" stroke-width="14"/>
  <path d="M330,400 C300,440 265,480 235,495" stroke-width="8"/>
  <!-- thumb over pen -->
  <path fill="#fff" stroke="none" d="M270,600 C310,585 360,590 400,610 L480,640 L600,400 L640,345 C720,410 800,480 850,540 C885,590 885,650 860,690 C830,715 780,745 720,775 C680,770 620,755 560,730 L500,900 L480,900 C440,850 400,790 350,740 C330,715 310,695 295,685 C280,660 268,630 270,600 Z"/>
  <path d="M280,600 C310,585 360,590 400,610 C440,640 500,700 560,730 C620,755 680,770 720,775 C780,745 830,715 860,690 C885,650 885,590 850,540 C800,480 720,410 640,345" stroke-width="15"/>
  <path d="M280,600 C275,630 285,660 300,680" stroke-width="13"/>
  <path d="M540,500 L640,480 L710,440 M640,480 C620,530 600,600 590,700 M500,630 L590,600 M385,625 L360,685" stroke-width="9"/>
  <path d="M180,590 C165,650 195,740 232,805" stroke-width="13"/>
  <path d="M330,900 C335,935 380,950 460,935 M310,960 C315,1020 370,1070 490,1065" stroke-width="13"/>
  <path d="M480,900 C490,980 530,1080 600,1130 C680,1185 760,1215 800,1212 C850,1200 900,1192 940,1195 C1000,1205 1070,1245 1135,1282" stroke-width="15"/>
  <path d="M0,995 C50,990 100,978 150,965" stroke-width="14"/>
  <path d="M1000,385 C1050,430 1095,480 1135,545" stroke-width="14"/>
</g>
<!-- group C: 4.0286x coords origin (560,1000) -->
<g transform="translate(560,1000) scale(.248227)" class="k" stroke-width="10.8">
  <path d="M195,0 L440,270"/>
  <path d="M460,0 C500,40 540,75 580,105 L700,195 L805,0"/>
  <path d="M45,0 C35,60 40,140 68,215" stroke-width="5"/>
  <path d="M400,205 C415,160 450,115 520,100 L560,100 M365,35 C390,25 430,20 462,26" stroke-width="5"/>
  <path fill="#c9c9c9" stroke="none" d="M0,590 L45,650 L55,625 L120,720 L140,615 L210,690 L215,560 L270,640 L285,525 L340,600 L350,535 L430,520 L490,445 L520,450 L560,500 L610,560 L660,600 L700,610 L750,650 L770,690 L780,660 L810,720 L830,715 L870,810 L0,810 Z"/>
  <path d="M475,500 L350,720" stroke-width="10.8"/>
  <path d="M440,590 L380,730" stroke-width="7.2"/>
  <path d="M345,545 L400,640 M325,580 L370,680 M520,495 L630,690 M545,495 L650,690 M600,535 L680,690 M665,540 L750,690 L800,806 M730,720 L770,806 M820,750 L850,806" stroke-width="4.5"/>
  <path d="M420,430 L520,590 M450,450 L530,580 M330,610 L365,690" stroke-width="2.5" stroke="#555"/>
</g>

</g>
<g clip-path="url(#c32)">
<!-- tile (3,2): cat licking hand. group A: 8x coords origin (840,800) -->
<g transform="translate(840,800) scale(.125)" class="k" stroke-width="16.1">
  <!-- gray face -->
  <path fill="#c9c9c9" stroke="none" d="M0,0 L1730,0 L1725,100 L1710,300 L1680,500 L1620,720 L1520,840 L1420,880 L1270,900 L1120,885 L1000,890 L880,870 L720,800 L600,700 L480,560 L400,430 L370,350 L350,500 L330,700 L290,880 L240,1000 L180,1130 L90,1210 L0,1260 Z"/>
  <!-- right eye -->
  <ellipse cx="915" cy="585" rx="152" ry="88" fill="#000" stroke="none" transform="rotate(-32 915 585)"/>
  <path d="M610,262 L870,560" stroke="#fff" stroke-width="12.6"/>
  <path d="M935,585 L912,622" stroke="#fff" stroke-width="10.3"/>
  <path d="M1012,452 L1026,396" stroke-width="10.3"/>
  <!-- left eye -->
  <path fill="#000" stroke="none" d="M0,850 C60,835 130,850 180,880 C210,900 235,920 252,935 C220,955 160,985 80,1000 L0,1006 Z"/>
  <path d="M75,905 L50,962 M8,930 L0,945" stroke="#fff" stroke-width="10.3"/>
  <!-- thin lines -->
  <path d="M0,40 L130,240 M310,850 L490,1100" stroke="#555" stroke-width="4"/>
  <!-- muzzle circle -->
  <path fill="#fff" d="M800,870 C860,880 920,930 942,1000 C950,1060 920,1120 870,1150 C820,1175 740,1175 650,1160" stroke-width="14.9"/>
  <path d="M720,890 L690,920 M675,940 L660,975 M652,1000 L650,1030 M715,975 L710,1010" stroke-width="10.3"/>
  <path d="M870,1150 C880,1185 920,1195 940,1160 L945,1100 M905,1110 L905,1150" stroke-width="8"/>
  <!-- mouth -->
  <path d="M570,1052 L600,1048 M500,1100 C540,1115 580,1130 620,1140 C640,1125 648,1100 650,1080 M590,1112 L640,1095" stroke-width="10.3"/>
  <!-- whisker marks -->
  <path d="M640,722 L640,770 M680,637 L675,665 M340,840 L390,880 M430,852 L450,882 M420,1020 L510,1026 M405,910 L410,930 M265,1250 L272,1310 M530,1545 L570,1535 M555,1045 L585,1040" stroke-width="11.5"/>
  <circle cx="440" cy="1172" r="11" fill="#000" stroke="none"/><circle cx="435" cy="1522" r="11" fill="#000" stroke="none"/>
  <!-- lower lip dark -->
  <path fill="#000" stroke="none" d="M375,1318 C420,1312 470,1332 520,1308 L575,1240 L590,1260 C570,1300 560,1350 555,1430 L500,1398 L450,1352 Z"/>
  <path fill="#fff" stroke="none" d="M522,1335 L550,1312 L544,1378 Z"/>
  <path d="M655,1165 C610,1230 578,1320 578,1420 C580,1500 592,1580 610,1660" stroke-width="32.2"/>
  <!-- fingers -->
  <path d="M735,1205 C760,1300 800,1420 850,1600 L905,1745 M900,1185 C930,1300 965,1420 1010,1600 L1085,1770 M990,1100 C1030,1200 1070,1320 1130,1460 L1200,1700 M1040,1030 L1125,1200 C1200,1380 1290,1600 1360,1790" stroke-width="14.9"/>
  <path d="M0,1470 L80,1560 M0,1540 C50,1570 120,1590 230,1600" stroke-width="13.8"/>
</g>
<!-- group B: 8x coords origin (980,800) -->
<g transform="translate(980,800) scale(.125)" class="k" stroke-width="16.1">
  <path d="M600,60 C608,150 600,300 580,400 C560,520 520,680 480,750 C440,830 330,980 250,1080 C180,1170 100,1250 40,1285 L60,1365" stroke-width="20.7"/>
  <path d="M610,250 C612,400 590,600 550,750 C520,830 400,1020 300,1130 C220,1220 130,1310 60,1365" stroke-width="11.5"/>
  <path d="M410,0 L590,340 M470,0 L700,610 M560,0 L610,100 M395,115 L660,610 M440,190 L665,670 M600,260 L775,575 M510,215 L600,400 M390,715 L490,935 M325,845 L415,970 M330,925 L380,995" stroke-width="6.9"/>
  <ellipse cx="226" cy="1365" rx="26" ry="15" fill="#000" stroke="none" transform="rotate(-30 226 1365)"/>
  <circle cx="405" cy="1482" r="9" fill="#000" stroke="none"/>
  <path d="M0,1290 L160,1600" stroke-width="20.7"/>
  <path d="M30,1300 L170,1600 M190,1470 L230,1600 M225,1480 L265,1600 M0,1080 L25,1150" stroke-width="6.9"/>
  <path d="M-20,1420 L50,1600" stroke-width="18.4"/>
</g>
<!-- group C: 4.0286x coords origin (840,1000) -->
<g transform="translate(840,1000) scale(.248227)" class="k" stroke-width="9.2">
  <path d="M258,60 C275,35 305,22 330,30 L350,85 L300,115" stroke-width="9.2"/>
  <path d="M258,60 C275,110 300,170 340,260 L430,375" stroke-width="13.8"/>
  <path d="M340,260 C380,340 440,450 490,530 C520,565 570,620 610,650" stroke-width="11.5"/>
  <path d="M330,30 C360,70 400,130 440,165 C480,190 560,220 620,250 C680,290 730,360 765,455" stroke-width="9.2"/>
  <path d="M395,72 L460,80 L640,72" stroke-width="9.2"/>
  <path d="M650,0 C670,40 720,120 790,200 C840,280 880,380 890,440 L895,540" stroke-width="11.5"/>
  <path d="M885,545 C940,580 1000,615 1068,650" stroke-width="11.5"/>
  <path d="M720,585 C750,560 800,545 850,540" stroke-width="4"/>
  <path d="M0,615 C60,625 160,615 250,595 C320,575 400,552 505,548" stroke-width="9.2"/>
  <ellipse cx="138" cy="128" rx="11" ry="8" fill="#000" stroke="none" transform="rotate(-30 138 128)"/>
  <circle cx="121" cy="322" r="4" fill="#000" stroke="none"/><circle cx="178" cy="318" r="3" fill="#000" stroke="none"/>
  <path d="M0,275 L40,290 L75,312" stroke-width="6.9"/>
  <path d="M0,0 L200,20 L215,35 M0,20 L50,70 M40,10 L100,50 M100,0 L210,25" stroke-width="6.9"/>
  <path d="M275,210 L305,325 M285,235 L310,300 M585,218 C630,218 700,225 750,242 M805,175 L895,325 M895,390 L925,520 M660,10 L700,60" stroke-width="3" stroke="#444"/>
  <circle cx="858" cy="12" r="5" fill="#000" stroke="none"/>
</g>

</g>
<g clip-path="url(#c03)">
<!-- tile (0,3): #271 pill: 11.28x coords origin (0,1250) -->
<g transform="translate(0,1250) scale(.0886525)" class="k" stroke-width="19">
  <path d="M-20,148 L735,148 A243.5,243.5 0 0 1 735,635 L-20,635" stroke-linecap="butt"/>
  <g stroke-width="36">
  <path d="M80,265 L50,513 M-10,335 L135,335 M-10,440 L128,440"/>
  <path d="M195,325 C200,285 225,258 258,258 C295,260 315,290 308,335 C300,380 250,440 200,505 L195,512 L315,512"/>
  <path d="M370,268 L490,268 C465,330 430,420 410,515"/>
  <path d="M545,312 L605,262 L605,515"/>
  </g>
</g>
<!-- bottom text: 14.1x coords origin (0,1550) -->
<g transform="translate(0,1550) scale(.070922)" class="k" stroke-width="19">
  <path d="M115,265 C110,310 80,370 45,380 C15,360 20,300 60,270 C110,245 180,270 195,340 C205,400 185,430 150,438"/>
  <path d="M130,550 C160,545 185,570 180,600 C175,625 150,635 120,635 M45,680 L50,710"/>
  <path d="M545,230 L470,365 M500,275 C550,340 580,420 572,500 C570,540 560,575 540,595 M560,535 L480,585"/>
  <path d="M615,290 L800,265 M680,250 L685,345 M740,245 L745,350 M665,415 L670,570 L805,545 L795,405 Z M650,495 L800,480 M725,410 L735,570"/>
</g>

</g>
<g clip-path="url(#c13)">
<!-- tile (1,3): text top-left 12.314x coords origin (276,1196); gray strip bottom-left -->
<g transform="translate(276,1196) scale(.0812084)" class="k" stroke-width="18">
  <path d="M40,137 L125,125 C135,165 125,200 110,215 M110,75 L55,225 M195,85 C215,110 230,130 235,145"/>
  <path d="M165,250 C200,240 215,265 195,285 L165,292" stroke-width="15"/>
  <path d="M75,400 L180,380 C140,400 100,430 105,460 C115,490 150,495 180,490"/>
  <path d="M80,610 L160,595 M75,660 L175,645 M120,570 L150,700 M85,730 C105,755 140,762 175,755"/>
  <path d="M70,830 L150,820 M115,790 L85,975 M170,880 L235,878 M175,925 L240,930"/>
  <path d="M75,1095 L70,1200 C90,1215 130,1205 140,1195 L145,1095 C120,1080 90,1085 75,1095 M72,1150 L142,1148"/>
  <path d="M215,1085 L330,1080 M270,1045 L272,1130 M205,1130 L340,1128 M200,1185 L355,1180 M315,1185 L318,1290 M245,1225 L275,1255"/>
  <path d="M125,1395 L120,1510 M185,1430 L290,1420 M240,1385 L242,1490 C225,1520 190,1510 195,1490 C210,1470 250,1490 285,1530"/>
  <path d="M565,115 L685,95 M625,70 L665,175 M575,190 C590,225 625,235 660,225"/>
  <path d="M570,400 L660,395 M565,445 L655,440 M615,360 L618,500 C600,525 570,515 575,495 C590,480 625,495 650,520"/>
  <path d="M540,705 L615,695 C625,740 618,780 600,798 M588,655 L538,800 M735,600 L795,632 M700,662 L740,702"/>
</g>
<path fill="#e2e2e2" d="M280,1452.5 L320.5,1453 L319.5,1520 L318,1600 L280,1600 Z"/>
<path d="M318,1452 L334,1456 M318.5,1452 L319,1458" stroke="#bbb" stroke-width=".8" fill="none"/>

</g>
<g clip-path="url(#c23)">
<!-- tile (2,3): gray polygon top-left -->
<path fill="#e4e4e4" d="M560,1200 L597,1200 C596,1225 592,1250 585,1274 L560,1275 Z"/>
<path d="M560,1286.5 C564,1284 568,1282.5 572,1282" stroke="#222" stroke-width="1.4" fill="none" stroke-linecap="round"/>

</g>
</svg>
</body></html>
